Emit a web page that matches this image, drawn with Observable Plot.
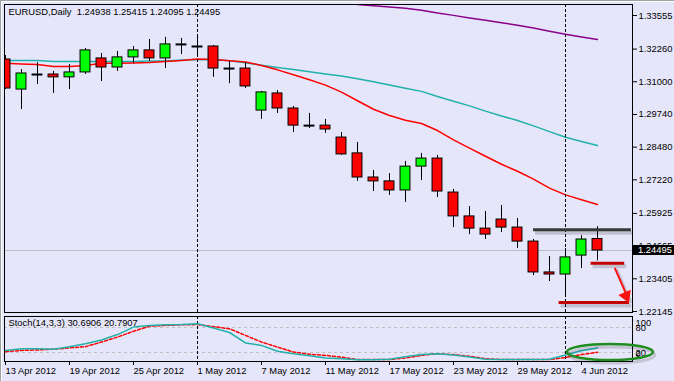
<!DOCTYPE html>
<html><head><meta charset="utf-8">
<script src="https://cdn.jsdelivr.net/npm/d3@7"></script>
<script src="https://cdn.jsdelivr.net/npm/@observablehq/plot@0.6"></script>
<style>
html,body{margin:0;padding:0;background:#E6E6FA;overflow:hidden;}
#chart{position:relative;width:674px;height:381px;overflow:hidden;background:#E6E6FA;box-shadow: inset 1px 1px 0 #a0a0a0, inset 2px 2px 0 #ffffff;}
#chart svg{position:absolute;left:0;}
</style></head><body><div id="chart"></div>
<script>
// ---- data ----
const dates = ["2012-04-13","2012-04-16","2012-04-17","2012-04-18","2012-04-19","2012-04-20","2012-04-23","2012-04-24","2012-04-25","2012-04-26","2012-04-27","2012-04-30",
  "2012-05-01","2012-05-02","2012-05-03","2012-05-04","2012-05-07","2012-05-08","2012-05-09","2012-05-10","2012-05-11","2012-05-14","2012-05-15","2012-05-16","2012-05-17","2012-05-18",
  "2012-05-21","2012-05-22","2012-05-23","2012-05-24","2012-05-25","2012-05-28","2012-05-29","2012-05-30","2012-05-31","2012-06-01","2012-06-04","2012-06-05"];
const open  = [1.3186,1.3070,1.3128,1.3128,1.3117,1.3136,1.3190,1.3155,1.3194,1.3221,1.3190,1.3244,1.3236,1.3236,1.3151,1.3151,1.2989,1.3055,1.2997,1.2931,1.2931,1.2885,1.2824,1.2731,1.2716,1.2681,1.2773,1.2804,1.2673,1.2581,1.2534,1.2569,1.2538,1.2484,1.2365,1.2357,1.2430,1.24938];
const high  = [1.3201,1.3147,1.3174,1.3140,1.3167,1.3228,1.3209,1.3217,1.3236,1.3263,1.3271,1.3267,1.3282,1.3240,1.3178,1.3174,1.3063,1.3066,1.3005,1.2978,1.2955,1.2904,1.2866,1.2758,1.2746,1.2793,1.2824,1.2816,1.2685,1.2619,1.2600,1.2623,1.2573,1.2492,1.2426,1.2457,1.2507,1.25415];
const low   = [1.3070,1.2993,1.3090,1.3055,1.3070,1.3128,1.3101,1.3140,1.3170,1.3178,1.3151,1.3205,1.3201,1.3117,1.3093,1.3074,1.2955,1.2978,1.2904,1.2920,1.2901,1.2816,1.2716,1.2677,1.2662,1.2635,1.2719,1.2654,1.2538,1.2511,1.2492,1.2519,1.2457,1.2353,1.2330,1.2268,1.2380,1.24095];
const close = [1.3074,1.3132,1.3128,1.3117,1.3136,1.3221,1.3155,1.3194,1.3221,1.3190,1.3244,1.3244,1.3236,1.3151,1.3151,1.3082,1.3059,1.2997,1.2931,1.2931,1.2916,1.2820,1.2731,1.2716,1.2681,1.2773,1.2804,1.2677,1.2581,1.2534,1.2511,1.2538,1.2484,1.2365,1.2357,1.2423,1.2492,1.24495];
const maRed  = [1.3171,1.3169,1.3167,1.3159,1.3159,1.3163,1.3171,1.3171,1.3172,1.3174,1.3178,1.3182,1.3188,1.3186,1.3181,1.3176,1.3163,1.3146,1.3127,1.3108,1.3087,1.3060,1.3027,1.2994,1.2970,1.2952,1.2939,1.2912,1.2876,1.2844,1.2813,1.2782,1.2755,1.2725,1.2690,1.2664,1.2645,1.2627];
const maTeal = [1.3182,1.3182,1.3182,1.3178,1.3178,1.3178,1.3178,1.3178,1.3178,1.3180,1.3180,1.3184,1.3185,1.3186,1.3181,1.3173,1.3164,1.3155,1.3147,1.3139,1.3130,1.3122,1.3112,1.3100,1.3088,1.3075,1.3063,1.3043,1.3025,1.3007,1.2987,1.2968,1.2951,1.2930,1.2908,1.2886,1.2870,1.2854];
const maPurpleStart = 22;
const maPurple = [1.3398,1.3393,1.3388,1.3383,1.3376,1.3365,1.3356,1.3346,1.3337,1.3328,1.3318,1.3307,1.3295,1.3283,1.3273,1.3263];
const stochK = [25,29,29,28,34,41,50,63,81,85,86.5,87,89,79,68,43,37,23,17,12,7,5,2.4,2.4,4,10,15,17,14,9,4,3,3,3,4,14,24,30.6906];
const stochD = [22,25,26,28,31,34,45,57,71,83,85,86.5,87,82,77,61,45,33,21,16,13,9,3,3,3,7,13,17,15,11,5,3,3,3,3,8,15,20.7907];
const priceTicks = [1.33555,1.32260,1.31000,1.29740,1.28480,1.27220,1.25925,1.24665,1.23405,1.22145];
const dateTickIdx = [0,4,8,12,16,20,24,28,32,36];
const markerIdx = [12,35];
const stochLevels = [80,20];
const symbol = "EURUSD,Daily";
const stochName = "Stoch(14,3,3)";
// hand-drawn annotations: price levels and arrow
const blackLevel = [{price:1.2530, from:33, to:39.12}];
const redLevels = [{price:1.2400, from:36.6, to:38.7},{price:1.2249, from:34.6, to:39.0}];
const arrowNote = [{i1:38.1, p1:1.2380, i2:38.94, p2:1.2261}];

// ---- build ----
const parse = d3.utcParse("%Y-%m-%d");
const fmt = d3.utcFormat("%-d %b %Y");
const bars = dates.map((d,i)=>({i, date: parse(d), o: open[i], h: high[i], l: low[i], c: close[i]}));
const lastClose = close[close.length-1];
const lastBar = bars[bars.length-1];
const f5 = v => v.toFixed(5);
const title = symbol + "\u00a0\u00a0" + [lastBar.o,lastBar.h,lastBar.l,lastBar.c].map(f5).join(" ");
const stochTitle = stochName + " " + stochK[stochK.length-1].toFixed(4) + " " + stochD[stochD.length-1].toFixed(4);
const series = (arr, start=0) => arr.map((v,k)=>({i:k+start, v}));
const X_DOMAIN = [-0.0625, 39.1875];
const HALF = 0.31;
const FONT = "'Liberation Sans', Arial, sans-serif";
const style = {background:"transparent", fontFamily:FONT, fontSize:"9.4px", color:"black", overflow:"visible"};

const main = Plot.plot({
  width:674, height:316, marginTop:4, marginBottom:4, marginLeft:4, marginRight:42,
  style,
  x:{domain:X_DOMAIN, axis:null},
  y:{domain:[1.22106, 1.33979]},
  marks:[
    Plot.ruleY([lastClose], {stroke:"#bcbcc6"}),
    Plot.line(series(maPurple, maPurpleStart), {x:"i", y:"v", stroke:"#8B008B", clip:true}),
    Plot.line(series(maTeal), {x:"i", y:"v", stroke:"#20B2AA", clip:true}),
    Plot.line(series(maRed), {x:"i", y:"v", stroke:"#FF0000", clip:true}),
    Plot.ruleX(markerIdx, {x:d=>d, stroke:"black", strokeDasharray:"3,2"}),
    Plot.ruleX(bars, {x:"i", y1:"l", y2:"h", stroke:"black", clip:true}),
    Plot.rect(bars.filter(d=>d.c>d.o), {x1:d=>d.i-HALF, x2:d=>d.i+HALF, y1:"o", y2:"c", fill:"#00FF00", stroke:"black", clip:true}),
    Plot.rect(bars.filter(d=>d.c<d.o), {x1:d=>d.i-HALF, x2:d=>d.i+HALF, y1:"o", y2:"c", fill:"#FF0000", stroke:"black", clip:true}),
    Plot.ruleY(bars.filter(d=>d.c===d.o), {y:"c", x1:d=>d.i-HALF-0.03, x2:d=>d.i+HALF+0.03, stroke:"black", strokeWidth:2, clip:true}),
    // annotation shadows
    Plot.ruleY(blackLevel.concat(redLevels), {y:"price", x1:"from", x2:"to", stroke:"rgba(0,0,0,0.16)", strokeWidth:4, dx:2, dy:3}),
    Plot.arrow(arrowNote, {x1:"i1", y1:"p1", x2:"i2", y2:"p2", stroke:"rgba(0,0,0,0.16)", strokeWidth:3, headLength:0, dx:2, dy:2}),
    // annotations
    Plot.ruleY(blackLevel, {y:"price", x1:"from", x2:"to", stroke:"#383838", strokeWidth:3}),
    Plot.ruleY(redLevels, {y:"price", x1:"from", x2:"to", stroke:"#C40000", strokeWidth:3}),
    Plot.arrow(arrowNote, {x1:"i1", y1:"p1", x2:"i2", y2:"p2", stroke:"#FF1010", strokeWidth:2, headLength:0, insetEnd:5}),
    Plot.dot(arrowNote, {x:"i2", y:"p2", symbol:"triangle", r:5, fill:"#FF1010", stroke:"none", rotate:157, dx:-2.5, dy:-3.5}),
    Plot.axisY(priceTicks, {anchor:"right", tickSize:4, tickPadding:2, tickFormat:f5, stroke:"black", label:null}),
    Plot.frame({stroke:"black"}),
    Plot.text([title], {frameAnchor:"top-left", dx:4, dy:4, fill:"black"})
  ]
});
main.style.top = "0px";

// current price label (black box on the price axis)
{
  const y = main.scale("y").apply(lastClose);
  const g = d3.select(main).append("g");
  g.append("rect").attr("x", 633).attr("y", Math.round(y) - 5).attr("width", 41).attr("height", 10).attr("fill", "black");
  g.append("text").attr("x", 638).attr("y", y).attr("dy", "0.34em").attr("fill", "white").attr("text-anchor", "start")
    .attr("font-family", FONT).attr("font-size", "9.4px").text(f5(lastClose));
}

const stoch = Plot.plot({
  width:674, height:67, marginTop:2, marginBottom:20, marginLeft:4, marginRight:42,
  style,
  x:{domain:X_DOMAIN},
  y:{domain:[-1.6, 106.4], axis:null},
  marks:[
    Plot.ruleY(stochLevels, {stroke:"#c0c0c0", strokeDasharray:"3,3"}),
    Plot.ruleX(markerIdx, {x:d=>d, stroke:"black", strokeDasharray:"3,2"}),
    Plot.line(series(stochD), {x:"i", y:"v", stroke:"#FF0000", strokeDasharray:"3,2"}),
    Plot.line(series(stochK), {x:"i", y:"v", stroke:"#20B2AA"}),
    Plot.frame({stroke:"black"}),
    Plot.axisX(dateTickIdx, {anchor:"bottom", tickSize:4, tickPadding:2, textAnchor:"start", tickFormat:i=>fmt(bars[i].date), stroke:"black", label:null}),
    Plot.text(stochLevels, {y:d=>d, text:d=>String(d), frameAnchor:"right", dx:3, textAnchor:"start", fill:"black"}),
    Plot.text([100], {y:d=>d, text:d=>String(d), frameAnchor:"right", dx:3, dy:4.3, textAnchor:"start", fill:"black"}),
    Plot.text([0], {y:d=>d, text:d=>String(d), frameAnchor:"right", dx:3, dy:-7, textAnchor:"start", fill:"black"}),
    Plot.text([stochTitle], {frameAnchor:"top-left", dx:4, dy:3, fill:"black"})
  ]
});
stoch.style.top = "314px";

// green ellipse highlighting the stochastic turn
{
  const cx = stoch.scale("x").apply(37.81), cy = stoch.scale("y").apply(20);
  const g = d3.select(stoch).append("g");
  g.append("ellipse").attr("cx", cx+2).attr("cy", cy+3).attr("rx", 43).attr("ry", 8)
    .attr("fill", "none").attr("stroke", "rgba(0,0,0,0.15)").attr("stroke-width", 3);
  g.append("ellipse").attr("cx", cx).attr("cy", cy).attr("rx", 43).attr("ry", 8)
    .attr("fill", "none").attr("stroke", "#1E8C1E").attr("stroke-width", 2.5);
}

const root = document.getElementById("chart");
root.appendChild(main);
root.appendChild(stoch);
</script></body></html>
